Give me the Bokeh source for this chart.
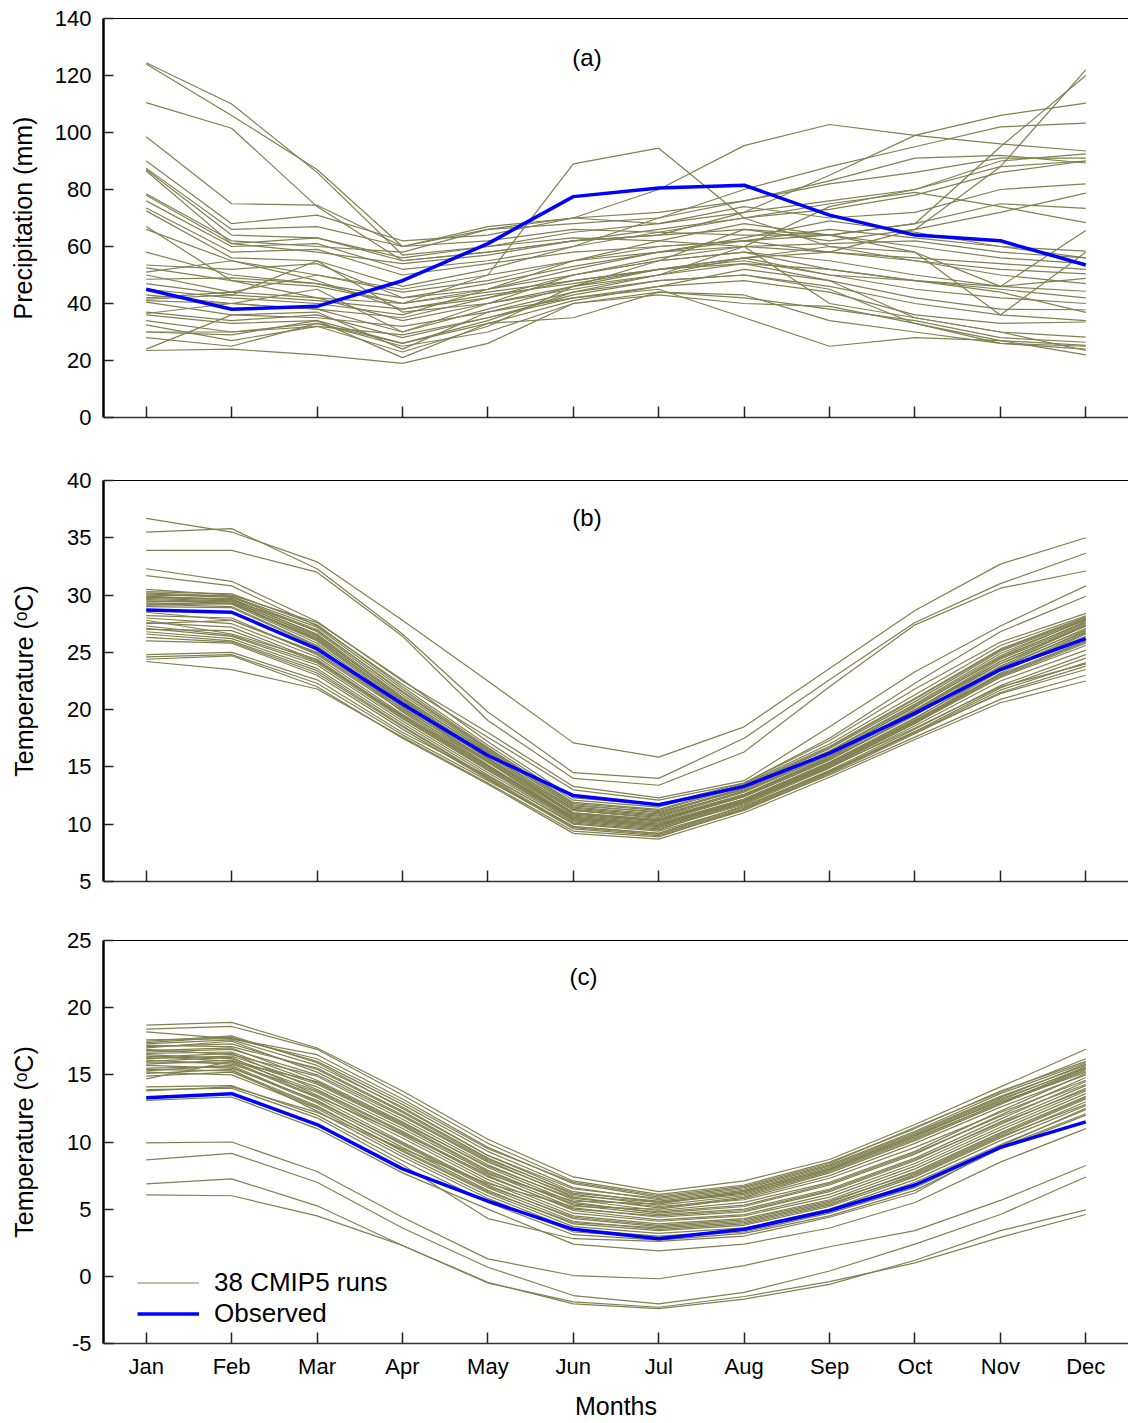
from bokeh.plotting import figure
from bokeh.models import Range1d, FixedTicker, LinearAxis, Label, Legend, LegendItem
from bokeh.layouts import column
from bokeh.embed import file_html
from bokeh.resources import INLINE

months = ["Jan", "Feb", "Mar", "Apr", "May", "Jun", "Jul", "Aug", "Sep", "Oct", "Nov", "Dec"]
month_num = list(range(1, len(months) + 1))

obs_precip = [45, 38, 39, 48, 61, 77.5, 80.5, 81.5, 71, 64, 62, 53.5]
obs_temp_b = [28.7, 28.5, 25.3, 20.5, 16.0, 12.5, 11.7, 13.3, 16.2, 19.7, 23.5, 26.2]
obs_temp_c = [13.3, 13.6, 11.3, 8.0, 5.6, 3.5, 2.8, 3.5, 4.9, 6.8, 9.6, 11.5]

cmip_precip = [
    [124.5, 110, 86, 57, 60, 63, 62, 60, 58, 66, 88, 122],
    [124, 106, 87, 60, 62, 66, 65, 64, 64, 68, 95, 120],
    [110.5, 101.5, 74, 55, 58, 62, 64, 72, 85, 99, 106, 110.3],
    [98.5, 75, 74.5, 60, 66, 68, 70, 80, 88, 95, 102, 103.3],
    [90, 68, 71, 62, 64, 70, 80, 95.4, 102.8, 99, 96, 93.5],
    [87.5, 66, 67, 60, 67, 70, 72, 76, 82, 86, 91, 91],
    [87, 64, 63, 56, 60, 65, 68, 72, 76, 80, 90, 92.5],
    [86.5, 61, 63, 55, 58, 62, 66, 70, 73, 78, 86, 90],
    [78.5, 62, 60, 58, 66, 70, 68, 74, 70, 72, 80, 82],
    [78, 61, 58, 54, 57, 62, 64, 66, 62, 66, 72, 78.7],
    [76, 60, 61, 52, 55, 60, 65, 70, 75, 79, 74, 68.4],
    [73.5, 58, 59, 50, 54, 58, 60, 62, 64, 68, 75, 73.4],
    [72.5, 56, 55, 46, 52, 60, 70, 76, 83, 91, 92, 89.3],
    [67, 48, 42, 40, 50, 89, 94.5, 70, 60, 55, 50, 47],
    [66, 55, 50, 44, 48, 55, 62, 68, 64, 60, 56, 54],
    [58, 50, 47, 42, 47, 53, 58, 60, 61, 62, 58, 56],
    [53.5, 52, 54, 42, 45, 50, 55, 58, 52, 48, 46, 44.3],
    [52.5, 48, 46, 40, 44, 48, 52, 55, 50, 48, 45, 42],
    [51, 55, 48, 38, 43, 47, 52, 56, 58, 55, 52, 50.4],
    [50, 44, 50, 45, 50, 55, 58, 62, 66, 63, 60, 58.4],
    [48.5, 49, 47, 40, 45, 52, 58, 63, 69, 65, 60, 56],
    [47, 43, 55, 37, 40, 45, 50, 60, 74, 80, 88, 90],
    [45, 42, 40, 36, 45, 55, 60, 62, 58, 56, 54, 52],
    [43, 40, 38, 35, 42, 50, 55, 58, 55, 50, 46, 48.8],
    [42, 44, 42, 34, 40, 46, 52, 56, 50, 45, 42, 40],
    [41.5, 43, 41, 38, 42, 48, 52, 54, 48, 42, 38, 37.8],
    [41, 40, 38, 30, 38, 46, 50, 54, 52, 48, 44, 36.9],
    [40.5, 36, 35, 32, 37, 44, 48, 50, 46, 40, 36, 34],
    [37, 34, 36, 28, 35, 42, 46, 48, 44, 36, 33, 33.5],
    [36.5, 40, 45, 30, 40, 50, 56, 60, 40, 35, 30, 28.2],
    [36, 33, 34, 26, 34, 44, 50, 56, 60, 58, 46, 65.6],
    [34, 30, 33, 25, 30, 40, 44, 42, 38, 34, 28, 26.4],
    [32.5, 27, 32, 23, 32, 46, 55, 66, 64, 58, 36, 58],
    [30, 30, 32, 29, 35, 43, 48, 50, 45, 33, 27, 25.3],
    [30, 29, 34, 21, 33, 41, 46, 52, 48, 35, 30, 23.5],
    [28, 25, 33, 26, 33, 35, 44, 43, 34, 30, 26, 25],
    [24, 36, 37, 24, 37, 42, 45, 35, 25, 28, 27, 22],
    [23.5, 24, 22, 19, 26, 40, 43, 40, 39, 33, 26, 24],
]

cmip_temp_b = [
    [36.7, 35.5, 32.9, 27.8, 22.5, 17.1, 15.85, 18.5, 23.6, 28.65, 32.7, 35.0],
    [35.5, 35.8, 32.3, 26.6, 19.8, 14.5, 14.0, 17.5, 22.6, 27.6, 31.0, 33.65],
    [33.9, 33.9, 32.0, 26.4, 19.05, 14.0, 13.4, 16.3, 22.0, 27.4, 30.6, 32.1],
    [32.3, 31.2, 27.7, 22.5, 18.0, 13.3, 12.3, 13.8, 18.5, 23.3, 27.3, 30.8],
    [31.7, 30.8, 27.3, 22.2, 17.6, 13.0, 12.1, 13.6, 17.5, 22.3, 26.8, 29.9],
    [30.5, 30.0, 27.6, 22.6, 17.2, 12.3, 11.7, 13.6, 17.3, 21.8, 25.9, 28.4],
    [30.3, 30.1, 27.4, 22.0, 16.9, 12.1, 11.5, 13.5, 17.0, 21.3, 25.6, 28.2],
    [30.2, 29.9, 27.2, 21.8, 16.7, 11.9, 11.3, 13.4, 16.8, 21.0, 25.3, 28.1],
    [30.1, 29.8, 27.0, 21.5, 16.5, 11.7, 11.0, 13.2, 16.6, 20.7, 25.1, 27.9],
    [30.0, 29.9, 26.8, 21.3, 16.4, 11.5, 10.9, 13.1, 16.4, 20.5, 24.9, 27.8],
    [29.9, 29.6, 26.6, 21.1, 16.2, 11.3, 10.7, 12.9, 16.2, 20.2, 24.6, 27.6],
    [29.8, 29.7, 26.5, 20.9, 16.0, 11.2, 10.6, 12.8, 16.0, 20.0, 24.4, 27.5],
    [29.7, 29.5, 26.3, 20.7, 15.8, 11.0, 10.4, 12.6, 15.8, 19.8, 24.2, 27.4],
    [29.6, 29.4, 26.1, 20.6, 15.7, 10.9, 10.3, 12.5, 15.7, 19.6, 24.0, 27.3],
    [29.5, 29.3, 26.0, 20.4, 15.5, 10.8, 10.2, 12.4, 15.6, 19.5, 23.8, 27.1],
    [29.4, 29.5, 26.4, 21.0, 16.3, 11.6, 11.1, 13.0, 16.3, 20.4, 24.7, 27.9],
    [29.3, 29.2, 25.8, 20.2, 15.4, 10.6, 10.0, 12.2, 15.4, 19.2, 23.6, 26.9],
    [29.2, 29.0, 25.6, 20.0, 15.2, 10.5, 9.9, 12.1, 15.3, 19.0, 23.4, 26.7],
    [29.1, 29.3, 26.2, 20.8, 16.1, 11.4, 10.8, 12.9, 16.1, 20.3, 24.5, 27.7],
    [29.0, 28.9, 25.5, 19.8, 15.1, 10.4, 9.8, 12.0, 15.1, 18.8, 23.2, 26.6],
    [29.8, 29.6, 26.9, 21.6, 16.6, 11.8, 11.2, 13.3, 16.7, 20.9, 25.2, 28.0],
    [28.5, 27.8, 25.0, 20.3, 15.8, 11.2, 10.5, 12.6, 15.9, 20.0, 24.2, 27.3],
    [28.2, 28.0, 24.8, 19.9, 15.4, 10.9, 10.3, 12.4, 15.6, 19.6, 23.7, 26.8],
    [28.0, 27.5, 24.6, 19.6, 15.1, 10.7, 10.1, 12.2, 15.4, 19.3, 23.4, 26.4],
    [27.8, 26.6, 24.4, 19.4, 14.9, 10.5, 9.9, 12.0, 15.2, 19.0, 23.0, 25.9],
    [27.5, 27.8, 24.9, 20.1, 15.6, 11.0, 10.4, 12.5, 15.8, 19.9, 24.0, 27.0],
    [27.3, 26.5, 24.1, 19.2, 14.7, 10.3, 9.7, 11.8, 15.0, 18.8, 22.8, 25.6],
    [27.1, 26.4, 23.9, 19.0, 14.5, 10.2, 9.6, 11.7, 14.9, 18.6, 22.5, 25.2],
    [27.0, 26.9, 24.2, 19.5, 15.0, 10.6, 10.0, 12.1, 15.3, 19.1, 23.1, 26.0],
    [26.8, 26.2, 23.6, 18.8, 14.3, 10.0, 9.4, 11.5, 14.7, 18.3, 22.1, 24.8],
    [26.6, 26.0, 23.4, 18.6, 14.1, 9.8, 9.2, 11.4, 14.6, 18.1, 21.9, 24.5],
    [26.3, 25.9, 23.2, 18.5, 14.0, 9.7, 9.1, 11.3, 14.5, 18.0, 21.7, 24.1],
    [26.0, 25.8, 23.0, 18.3, 13.9, 9.6, 9.0, 11.2, 14.4, 17.9, 21.5, 23.8],
    [27.6, 27.2, 24.3, 19.3, 14.8, 10.4, 9.8, 11.9, 15.1, 18.9, 22.9, 25.8],
    [24.8, 25.0, 22.6, 18.0, 14.2, 10.1, 9.5, 11.9, 15.0, 18.4, 22.0, 24.0],
    [24.6, 24.8, 22.3, 17.8, 13.8, 9.8, 9.2, 11.6, 14.6, 18.0, 21.4, 23.5],
    [24.4, 24.7, 22.0, 17.5, 13.5, 9.2, 8.7, 11.0, 14.1, 17.4, 20.6, 22.5],
    [24.2, 23.5, 21.8, 17.6, 13.6, 9.4, 8.9, 11.3, 14.3, 17.6, 20.9, 23.0],
]

cmip_temp_c = [
    [18.7, 18.9, 17.0, 13.8, 10.2, 7.4, 6.3, 7.1, 8.7, 11.3, 14.1, 16.9],
    [18.4, 18.6, 16.9, 13.5, 9.9, 7.1, 6.1, 6.8, 8.5, 11.0, 13.8, 16.0],
    [18.2, 17.7, 16.5, 13.2, 9.6, 6.9, 5.9, 6.6, 8.3, 10.8, 13.6, 15.9],
    [17.4, 17.8, 16.0, 12.8, 9.3, 6.6, 5.7, 6.4, 8.1, 10.6, 13.3, 15.8],
    [17.3, 17.6, 15.7, 12.6, 9.0, 6.3, 5.5, 6.2, 7.9, 10.4, 13.1, 15.6],
    [17.2, 17.1, 15.5, 12.3, 8.8, 6.1, 5.3, 6.0, 7.8, 10.2, 12.9, 15.5],
    [17.0, 17.5, 15.2, 12.0, 8.6, 5.9, 5.1, 5.9, 7.7, 10.1, 12.8, 15.4],
    [16.9, 16.5, 14.9, 11.7, 8.3, 5.7, 4.9, 5.5, 7.0, 9.3, 12.3, 15.1],
    [16.8, 17.0, 14.6, 11.5, 8.1, 5.5, 4.7, 5.2, 6.8, 9.1, 12.0, 14.8],
    [16.6, 16.7, 14.4, 11.3, 7.9, 5.3, 4.6, 5.0, 6.5, 8.8, 11.7, 14.5],
    [16.5, 16.2, 14.1, 11.0, 7.7, 5.1, 4.4, 4.8, 6.3, 8.6, 11.5, 14.2],
    [16.3, 16.6, 13.9, 10.8, 7.5, 4.9, 4.2, 4.6, 6.1, 8.4, 11.3, 14.0],
    [16.1, 15.8, 13.7, 10.5, 7.2, 4.7, 4.1, 4.5, 5.9, 8.2, 11.1, 13.8],
    [16.0, 16.3, 13.5, 10.3, 7.0, 4.5, 3.9, 4.3, 5.7, 8.0, 10.9, 13.6],
    [15.9, 15.9, 13.3, 10.0, 6.8, 4.3, 3.7, 4.1, 5.5, 7.8, 10.7, 13.4],
    [15.7, 15.5, 13.1, 9.8, 6.6, 4.1, 3.5, 3.9, 5.3, 7.6, 10.5, 13.2],
    [15.5, 15.6, 12.9, 9.6, 6.4, 3.9, 3.4, 3.8, 5.2, 7.4, 10.3, 13.0],
    [15.4, 15.3, 12.7, 9.3, 6.2, 3.7, 3.2, 3.6, 5.0, 7.2, 10.1, 12.7],
    [15.2, 15.0, 12.5, 9.1, 6.0, 3.5, 3.0, 3.4, 4.8, 7.0, 9.8, 12.4],
    [15.1, 15.4, 12.3, 8.9, 5.8, 3.3, 2.9, 3.3, 4.7, 6.6, 9.6, 12.1],
    [14.7, 16.0, 13.4, 10.6, 7.6, 5.6, 5.4, 6.3, 8.0, 10.5, 13.0, 15.3],
    [14.1, 14.2, 12.0, 8.6, 5.5, 3.1, 2.7, 3.2, 4.5, 6.4, 9.5, 12.0],
    [13.9, 14.0, 11.8, 8.3, 4.3, 2.8, 2.6, 3.0, 4.4, 6.2, 9.7, 12.5],
    [13.8, 14.1, 12.2, 9.5, 6.9, 5.2, 5.0, 5.8, 7.5, 9.9, 12.6, 15.0],
    [17.6, 17.7, 16.2, 13.0, 9.5, 7.0, 6.0, 6.7, 8.4, 11.1, 13.7, 16.2],
    [17.5, 17.9, 15.9, 12.5, 9.0, 6.5, 5.8, 6.5, 8.2, 10.7, 13.4, 15.7],
    [17.1, 17.3, 15.4, 12.2, 8.7, 6.2, 5.6, 6.3, 8.0, 10.5, 13.2, 15.5],
    [16.7, 16.9, 15.0, 11.9, 8.5, 6.0, 5.5, 6.1, 7.9, 10.3, 12.9, 15.2],
    [16.4, 16.0, 14.5, 11.4, 8.2, 5.8, 5.2, 5.7, 7.3, 9.6, 12.2, 14.6],
    [16.2, 16.4, 14.3, 11.2, 7.8, 5.4, 4.8, 5.3, 6.9, 9.2, 11.9, 14.3],
    [15.8, 16.1, 13.8, 10.7, 7.4, 5.0, 4.5, 4.9, 6.4, 8.7, 11.4, 13.9],
    [15.3, 15.7, 13.0, 9.9, 6.7, 4.4, 3.8, 4.2, 5.6, 7.7, 10.6, 13.3],
    [14.9, 15.2, 12.6, 9.4, 6.3, 4.0, 3.6, 4.0, 5.4, 7.5, 10.4, 12.8],
    [13.1, 13.35, 11.0, 7.7, 5.0, 2.4, 1.9, 2.4, 3.6, 5.5, 8.5, 11.0],
    [9.93, 10.0, 7.8, 4.4, 1.3, 0.06, -0.18, 0.8, 2.2, 3.4, 5.65, 8.25],
    [8.67, 9.15, 7.0, 3.6, 0.68, -1.43, -2.05, -1.2, 0.4, 2.4, 4.6, 7.4],
    [6.88, 7.25, 5.25, 2.3, -0.44, -2.05, -2.4, -1.7, -0.6, 1.2, 3.4, 4.95],
    [6.06, 6.0, 4.5, 2.3, -0.5, -1.9, -2.3, -1.5, -0.4, 1.0, 2.9, 4.6],
]

ticks_a = [0, 20, 40, 60, 80, 100, 120, 140]
ticks_b = [5, 10, 15, 20, 25, 30, 35, 40]
ticks_c = [-5, 0, 5, 10, 15, 20, 25]

OLIVE = "#808050"
BLUE = "#0000ff"
FONT = "Liberation Sans"


def make_panel(models, obs, yticks, ylabel, tag, tag_x, tag_y, top, bottom, height,
               show_months, label_standoff):
    p = figure(width=1128, height=height, x_range=Range1d(0.5, 12.5),
               y_range=Range1d(yticks[0], yticks[-1]),
               x_axis_type=None, y_axis_type=None,
               output_backend="svg", toolbar_location=None,
               min_border_left=103, min_border_right=0,
               min_border_top=top, min_border_bottom=bottom)
    p.outline_line_color = None
    p.background_fill_color = "white"

    y_over = {t: str(t) for t in yticks}
    yaxis = LinearAxis(ticker=FixedTicker(ticks=yticks), axis_label=ylabel,
                       major_label_overrides=y_over,
                       major_tick_in=10, major_tick_out=0,
                       minor_tick_line_color=None,
                       axis_line_width=2.5, axis_line_color="black",
                       major_tick_line_width=1.5, major_tick_line_color="#222222",
                       major_label_standoff=12,
                       major_label_text_font=FONT, major_label_text_font_size="22px",
                       major_label_text_color="black",
                       axis_label_text_font=FONT, axis_label_text_font_size="25px",
                       axis_label_text_font_style="normal", axis_label_text_color="black",
                       axis_label_standoff=label_standoff)
    p.add_layout(yaxis, "left")

    if show_months:
        overrides = {m: name for m, name in zip(month_num, months)}
    else:
        overrides = {m: "" for m in month_num}
    xaxis = LinearAxis(ticker=FixedTicker(ticks=month_num),
                       major_label_overrides=overrides,
                       major_tick_in=11, major_tick_out=0,
                       minor_tick_line_color=None,
                       axis_line_width=1.5, axis_line_color="#333333",
                       major_tick_line_width=1.5, major_tick_line_color="#222222",
                       major_label_standoff=10,
                       major_label_text_font=FONT, major_label_text_font_size="22px",
                       major_label_text_color="black",
                       axis_label=("Months" if show_months else None),
                       axis_label_text_font=FONT, axis_label_text_font_size="25px",
                       axis_label_text_font_style="normal", axis_label_text_color="black",
                       axis_label_standoff=10)
    p.add_layout(xaxis, "below")

    topaxis = LinearAxis(ticker=FixedTicker(ticks=[]), major_tick_in=0, major_tick_out=0,
                         minor_tick_line_color=None, axis_line_width=1,
                         axis_line_color="black")
    p.add_layout(topaxis, "above")

    ml = p.multi_line(xs=[month_num] * len(models), ys=models,
                      line_color=OLIVE, line_width=1.2)
    ol = p.line(month_num, obs, line_color=BLUE, line_width=3.5)

    p.add_layout(Label(x=tag_x, y=tag_y, text=tag, text_align="center",
                       text_baseline="middle", text_font=FONT,
                       text_font_size="24px", text_color="black"))
    return p, ml, ol


pa, _, _ = make_panel(cmip_precip, obs_precip, ticks_a, "Precipitation (mm)", "(a)",
                      6.16, 126.3, 18, 30, 447, False, 15)
pb, _, _ = make_panel(cmip_temp_b, obs_temp_b, ticks_b, "Temperature (\u1d52C)", "(b)",
                      6.16, 36.8, 33, 29, 463, False, 26)
pc, mlc, olc = make_panel(cmip_temp_c, obs_temp_c, ticks_c, "Temperature (\u1d52C)", "(c)",
                          6.12, 22.3, 30, 80, 513, True, 26)

legend = Legend(items=[LegendItem(label="38 CMIP5 runs", renderers=[mlc]),
                       LegendItem(label="Observed", renderers=[olc])],
                location=(34, 14), orientation="vertical",
                background_fill_alpha=0, border_line_color=None,
                padding=0, margin=0, spacing=0,
                glyph_width=62, glyph_height=31, label_height=31,
                label_standoff=15, label_text_font=FONT,
                label_text_font_size="26px", label_text_color="black")
pc.add_layout(legend)

layout = column(pa, pb, pc, spacing=0)
open("out.html", "w").write(file_html(layout, INLINE))
